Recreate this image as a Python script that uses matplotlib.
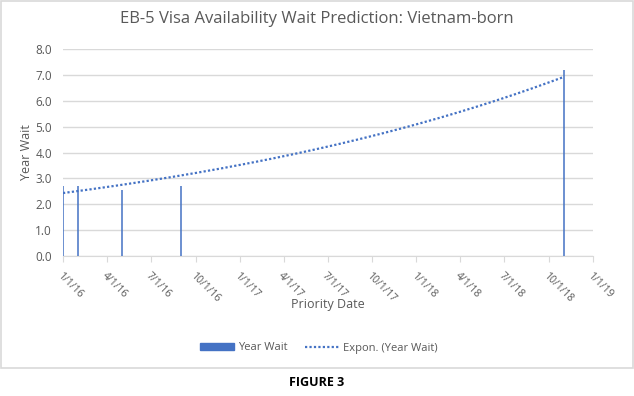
import matplotlib.pyplot as plt
from matplotlib.patches import Rectangle, Patch
from matplotlib.lines import Line2D
import numpy as np
import pandas as pd

plt.rcParams['font.family'] = ['Open Sans', 'DejaVu Sans']

# Priority dates and year waits
dates = pd.to_datetime(["2016-01-01", "2016-02-01", "2016-05-01", "2016-09-01", "2018-11-01"])
year_wait = [2.7, 2.7, 2.55, 2.7, 7.2]

tick_dates = pd.date_range("2016-01-01", "2019-01-01", freq="QS")
tick_labels = [f"{d.month}/{d.day}/{d.strftime('%y')}" for d in tick_dates]

blue = "#4472C4"
grey = "#D9D9D9"
text_grey = "#595959"

# Exponential trendline (Excel style: fit on log y)
days = np.array([(d - dates[0]).days for d in dates], dtype=float)
b, a = np.polyfit(days, np.log(year_wait), 1)
trend_x = np.linspace(days[0], days[-1], 200)
trend_y = np.exp(a + b * trend_x)
trend_dates = dates[0] + pd.to_timedelta(trend_x, unit="D")

fig = plt.figure(figsize=(6.34, 3.96), dpi=100)
ax = fig.add_axes([63 / 634, 1 - 256 / 396, 530 / 634, 207 / 396])

ax.vlines(dates, 0, year_wait, color=blue, linewidth=1.1, zorder=3)
ax.plot(trend_dates, trend_y, color=blue, linestyle=(0, (1, 1)), linewidth=1.6, zorder=4)

ax.set_ylim(0, 8)
ax.set_yticks(np.arange(0, 8.1, 1.0))
ax.set_yticklabels([f"{v:.1f}" for v in np.arange(0, 8.1, 1.0)])
ax.set_xlim(tick_dates[0], tick_dates[-1])
ax.set_xticks(tick_dates)
ax.set_xticklabels(tick_labels, rotation=-45, ha="left", va="top", rotation_mode="anchor")

ax.grid(axis="y", color=grey, linewidth=1)
ax.set_axisbelow(True)
for s in ["top", "right", "left"]:
    ax.spines[s].set_visible(False)
ax.spines["bottom"].set_color(grey)
ax.tick_params(axis="y", length=0, labelsize=8.5, labelcolor=text_grey, pad=8)
ax.tick_params(axis="x", length=4, color=grey, labelsize=7.5, labelcolor=text_grey, pad=6)

ax.set_ylabel("Year Wait", fontsize=9, color=text_grey)
ax.yaxis.set_label_coords(-0.057, 0.5)
ax.set_xlabel("Priority Date", fontsize=9, color=text_grey)
ax.xaxis.set_label_coords(0.5, -0.205)

fig.text(317 / 634, 1 - 19 / 396, "EB-5 Visa Availability Wait Prediction: Vietnam-born",
         ha="center", va="center", fontsize=12, color=text_grey)

handles = [Patch(color=blue), Line2D([0], [0], color=blue, linestyle=(0, (1, 1)), linewidth=1.6)]
fig.legend(handles, ["Year Wait", "Expon. (Year Wait)"], loc="center",
           bbox_to_anchor=(319 / 634, 1 - 348 / 396), ncol=2, frameon=False, fontsize=8,
           labelcolor=text_grey, handlelength=3.0, handleheight=0.5, handletextpad=0.4,
           columnspacing=1.6)

# chart area border
fig.patches.append(Rectangle((0.5 / 634, 1 - 368 / 396), 632 / 634, 367.5 / 396,
                             transform=fig.transFigure, fill=False, edgecolor=grey, linewidth=1.2))

fig.text(317 / 634, 1 - 383 / 396, "FIGURE 3", ha="center", va="center",
         fontsize=9, fontweight="bold", color="black")

fig.savefig("out.png", dpi=100)
